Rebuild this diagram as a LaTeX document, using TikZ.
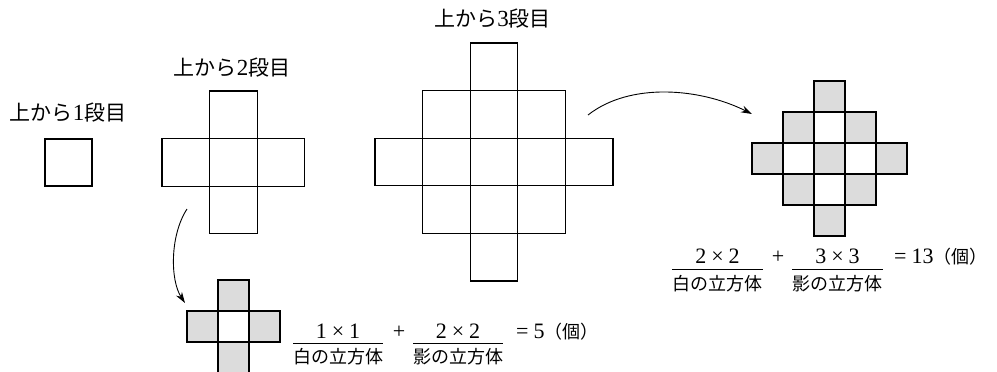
\documentclass[tikz,border=0pt]{standalone}
\usepackage{fontspec}
\setmainfont{Liberation Serif}
\newfontfamily\cjk{Noto Sans CJK JP}
\usetikzlibrary{arrows.meta}
\definecolor{shade}{RGB}{220,220,220}
\tikzset{
  lbl/.style={font=\cjk\fontsize{21}{25}\selectfont, inner sep=0pt},
  num/.style={font=\fontsize{22}{26}\selectfont, inner sep=0pt, anchor=base},
  den/.style={font=\cjk\fontsize{18}{22}\selectfont, inner sep=0pt, anchor=base},
  box/.style={draw=black, line width=1.1pt},
  fracline/.style={draw=black, line width=0.9pt},
  arr/.style={-{Stealth[length=11pt,width=7pt]}, line width=0.9pt},
}
\begin{document}
\begin{tikzpicture}[x=1pt,y=-1pt]
\useasboundingbox (0,0) rectangle (997,372);

% labels
\node[lbl] (l1) at (68,113) {上から{\rmfamily\fontsize{23}{25}\selectfont 1}段目};
\node[lbl] (l2) at (232,67.5) {上から{\rmfamily\fontsize{23}{25}\selectfont 2}段目};
\node[lbl] (l3) at (492.5,19) {上から{\rmfamily\fontsize{23}{25}\selectfont 3}段目};

% layer 1
\draw[box] (45,139) rectangle (92,186);

% layer 2
\foreach \c/\r in {1/0,0/1,1/1,2/1,1/2}
  \draw[box] (162+47.6*\c,91+47.6*\r) rectangle ++(47.6,47.6);

% layer 3
\foreach \c/\r in {2/0,1/1,2/1,3/1,0/2,1/2,2/2,3/2,4/2,1/3,2/3,3/3,2/4}
  \draw[box] (375+47.6*\c,43+47.6*\r) rectangle ++(47.6,47.6);

% small shaded cross
\foreach \c/\r/\f in {1/0/shade,0/1/shade,1/1/white,2/1/shade,1/2/shade}
  \filldraw[box, fill=\f] (187+31*\c,280+31*\r) rectangle ++(31,31);

% shaded diamond
\foreach \c/\r/\f in {2/0/shade,1/1/shade,2/1/white,3/1/shade,0/2/shade,1/2/white,2/2/shade,3/2/white,4/2/shade,1/3/shade,2/3/white,3/3/shade,2/4/shade}
  \filldraw[box, fill=\f] (752+31*\c,81+31*\r) rectangle ++(31,31);

% arrows
\coordinate (a1s) at (187,209);
\coordinate (a1e) at (185,303);
\coordinate (a2s) at (588,115);
\coordinate (a2e) at (752,114);
\draw[arr] (a1s) .. controls (170,235) and (170,280) .. (a1e);
\draw[arr] (a2s) .. controls (630,82) and (700,88) .. (a2e);

% bottom formula
\node[num] (bn1) at (338,338) {1\kern5pt×\kern5pt1};
\coordinate (bl1a) at (293,343); \coordinate (bl1b) at (383,343);
\draw[fracline] (bl1a) -- (bl1b);
\node[den] (bd1) at (338,363) {白の立方体};
\node[num] (bplus) at (399,338) {+};
\node[num] (bn2) at (458,338) {2\kern5pt×\kern5pt2};
\coordinate (bl2a) at (413,343); \coordinate (bl2b) at (503,343);
\draw[fracline] (bl2a) -- (bl2b);
\node[den] (bd2) at (458,363) {影の立方体};
\node[num, anchor=base west] (beq) at (516,338) {=\kern5pt5{\cjk\fontsize{18}{22}\selectfont （個）}};

% right formula
\node[num] (rn1) at (717.5,263) {2\kern5pt×\kern5pt2};
\coordinate (rl1a) at (672,269); \coordinate (rl1b) at (763,269);
\draw[fracline] (rl1a) -- (rl1b);
\node[den] (rd1) at (717.5,290) {白の立方体};
\node[num] (rplus) at (778,263) {+};
\node[num] (rn2) at (837.5,263) {3\kern5pt×\kern5pt3};
\coordinate (rl2a) at (792,269); \coordinate (rl2b) at (883,269);
\draw[fracline] (rl2a) -- (rl2b);
\node[den] (rd2) at (837.5,290) {影の立方体};
\node[num, anchor=base west] (req) at (894,263) {=\kern5pt13{\cjk\fontsize{18}{22}\selectfont （個）}};
\end{tikzpicture}
\end{document}
